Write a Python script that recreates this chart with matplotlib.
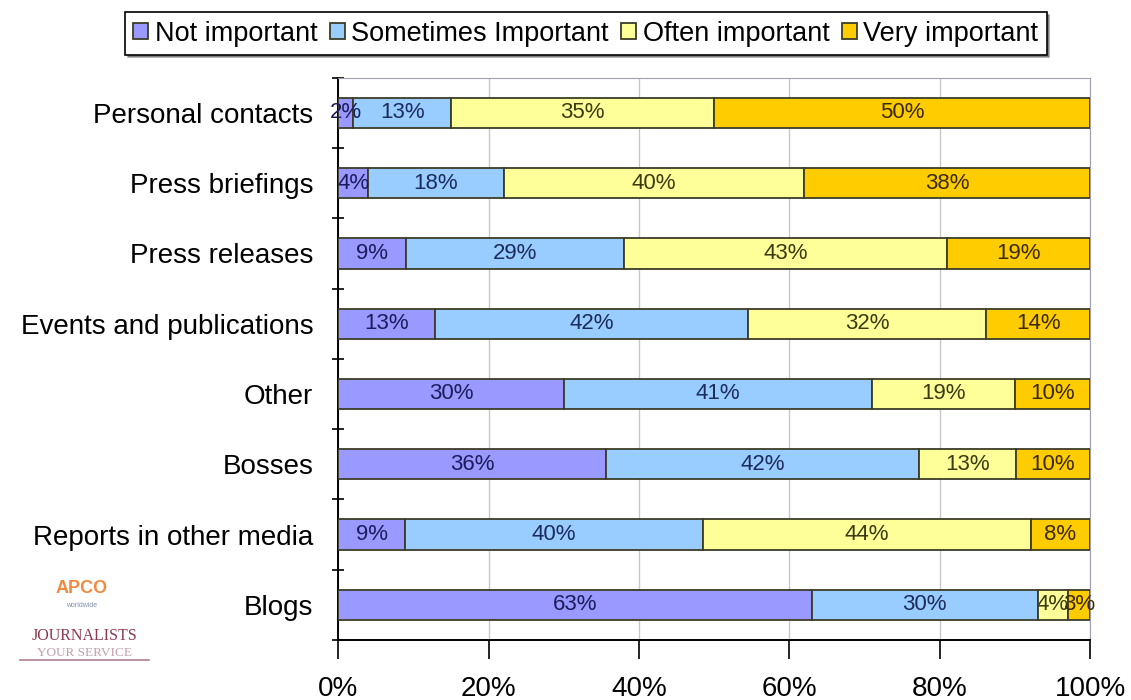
import numpy as np
import matplotlib.pyplot as plt
from matplotlib.ticker import FixedLocator, PercentFormatter

plt.rcParams['font.family'] = ['Liberation Sans', 'DejaVu Sans']

categories = ['Personal contacts', 'Press briefings', 'Press releases',
              'Events and publications', 'Other', 'Bosses',
              'Reports in other media', 'Blogs']
series = ['Not important', 'Sometimes Important', 'Often important', 'Very important']
not_important = [2, 4, 9, 13, 30, 36, 9, 63]
sometimes = [13, 18, 29, 42, 41, 42, 40, 30]
often = [35, 40, 43, 32, 19, 13, 44, 4]
very = [50, 38, 19, 14, 10, 10, 8, 3]
colors = ['#9999ff', '#99ccff', '#ffff99', '#ffcc00']
text_colors = ['#1c1c5c', '#1c2c5c', '#3a3a10', '#3a2a00']

data = np.array([not_important, sometimes, often, very], dtype=float)
shares = data / data.sum(axis=0) * 100  # 100% stacked

fig = plt.figure(figsize=(11.31, 7.0), dpi=100)
ax = fig.add_axes([0.299, 0.0857, 0.665, 0.8033])

y = np.arange(len(categories))
left = np.zeros(len(categories))
for i, name in enumerate(series):
    ax.barh(y, shares[i], left=left, height=0.43, color=colors[i],
            edgecolor='#3c3c28', linewidth=1.3, label=name, zorder=3)
    for j in range(len(categories)):
        ax.text(left[j] + shares[i][j] / 2, y[j], f'{int(data[i][j])}%',
                ha='center', va='center', fontsize=16, color=text_colors[i],
                zorder=4, clip_on=False)
    left += shares[i]

ax.set_xlim(0, 100)
ax.set_ylim(len(categories) - 0.5, -0.5)
ax.set_xticks(np.arange(0, 101, 20))
ax.xaxis.set_major_formatter(PercentFormatter(decimals=0))
ax.set_yticks(y)
ax.set_yticklabels(categories)
ax.yaxis.set_minor_locator(FixedLocator(np.arange(-0.5, len(categories), 1)))
ax.tick_params(axis='y', which='major', length=0, pad=18, labelsize=20)
ax.tick_params(axis='y', which='minor', length=8, direction='inout', width=1.2)
ax.tick_params(axis='x', length=14, width=1.2, direction='out', pad=12, labelsize=20)

ax.grid(axis='x', color='#c8c8c8', linewidth=1, zorder=0)
for side in ['top', 'right']:
    ax.spines[side].set_color('#a0a0b0')
for side in ['left', 'bottom']:
    ax.spines[side].set_linewidth(1.4)

leg = fig.legend(loc='upper center', bbox_to_anchor=(0.518, 0.99), ncol=4,
                 fontsize=19.5, frameon=True, fancybox=False, shadow=True,
                 handlelength=0.55, handleheight=0.55, handletextpad=0.25,
                 columnspacing=0.45, borderpad=0.3, borderaxespad=0.2,
                 edgecolor='black')
leg.get_frame().set_linewidth(1.2)

# logos in the lower left corner
fig.text(0.072, 0.153, 'APCO', color='#f08a40', fontsize=13, fontweight='bold', ha='center')
fig.text(0.072, 0.133, 'worldwide', color='#8090b0', fontsize=5, ha='center')
fig.text(0.075, 0.085, 'JOURNALISTS', color='#8a3a50', fontsize=11.5, ha='center',
         family='Liberation Serif')
fig.text(0.075, 0.063, 'YOUR SERVICE', color='#c0a0b0', fontsize=9.5, ha='center',
         family='Liberation Serif')
fig.add_artist(plt.Line2D([0.018, 0.132], [0.057, 0.057], color='#b08090',
                          linewidth=1.2))

fig.savefig('out.png', dpi=100)
